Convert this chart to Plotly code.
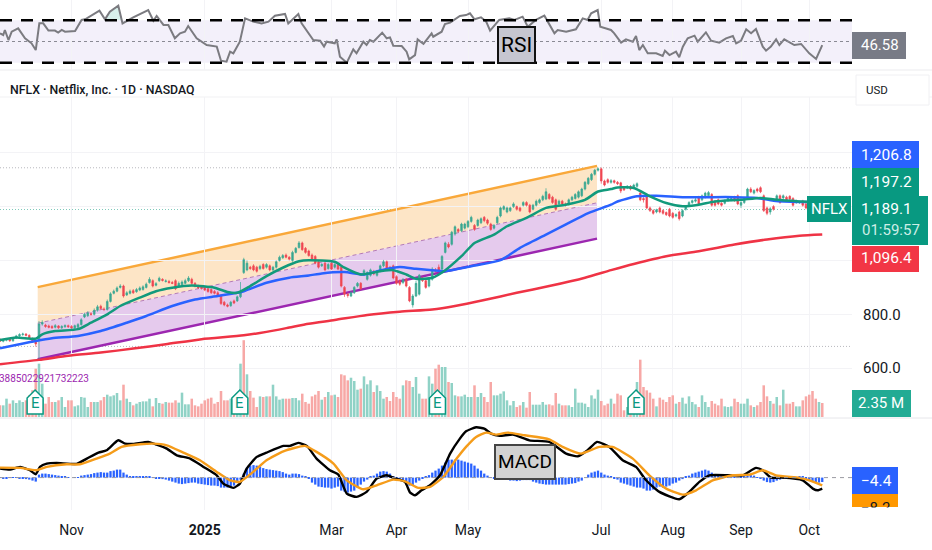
import plotly.graph_objects as go

# bars are spaced 3.25px, so the plot area of 852px holds this many of them
BAR_COUNT_VISIBLE = 852 / 3.25
FONT = "Roboto, sans-serif"

tick_idx = [22, 63, 102, 122, 144, 185, 207, 228, 249]
tick_labels = ["Nov", "<b>2025</b>", "Mar", "Apr", "May", "Jul", "Aug", "Sep", "Oct"]

opens = [
    706,700,704,708,702,712,720,725,727,722,
    710,700,705,764,760,757,755,752,757,750,
    754,758,755,750,752,762,790,795,802,800,
    815,830,820,818,848,878,886,900,905,872,
    878,888,884,890,892,900,918,925,908,925,
    930,922,922,918,925,905,910,915,925,930,
    915,905,902,900,895,892,885,880,870,845,
    835,832,850,850,865,955,965,975,980,975,
    970,985,975,980,965,975,1000,1010,1020,1012,
    1000,1030,1048,1065,1045,1035,1020,1015,995,980,
    990,970,990,975,985,975,900,875,868,880,
    905,915,948,930,945,960,945,965,980,995,
    975,980,940,925,918,930,900,835,868,875,
    935,925,905,930,965,975,968,1030,1060,1060,
    1098,1115,1110,1120,1125,1145,1130,1130,1140,1160,
    1150,1135,1120,1140,1165,1190,1180,1185,1200,1200,
    1195,1205,1215,1205,1190,1205,1215,1225,1228,1245,
    1235,1225,1210,1220,1210,1208,1225,1230,1235,1240,
    1265,1285,1300,1320,1335,1340,1295,1300,1290,1296,
    1290,1288,1272,1270,1275,1270,1275,1250,1230,1240,
    1195,1185,1180,1195,1185,1178,1190,1175,1165,1180,
    1165,1190,1205,1215,1220,1235,1225,1235,1240,1245,
    1220,1225,1212,1212,1222,1225,1235,1240,1205,1215,
    1235,1265,1250,1265,1270,1240,1195,1180,1200,1225,
    1240,1232,1235,1238,1230,1215,1215,1220,1210,1200,
    1195,1190,1188,1190,
]
closes = [
    700,704,708,702,712,720,725,727,722,710,
    700,690,764,770,755,752,750,758,750,755,
    758,754,750,758,762,780,800,805,800,815,
    828,822,818,848,876,886,898,905,868,880,
    886,880,892,898,902,912,930,905,914,934,
    926,924,918,915,895,915,920,925,935,915,
    905,898,896,890,885,880,878,870,840,835,
    830,845,842,865,880,1003,990,970,965,960,
    978,970,985,965,975,995,1012,1018,1012,1005,
    1030,1045,1065,1040,1030,1018,1002,990,975,985,
    965,985,968,985,968,905,875,870,880,900,
    915,895,962,955,965,950,960,980,995,970,
    968,935,915,912,928,905,850,868,915,945,
    925,900,930,968,960,965,1015,1065,1050,1105,
    1125,1108,1135,1135,1145,1160,1115,1150,1155,1148,
    1138,1115,1130,1160,1195,1200,1195,1195,1210,1190,
    1185,1215,1205,1180,1205,1220,1225,1238,1255,1230,
    1215,1190,1220,1210,1205,1225,1235,1245,1255,1265,
    1290,1305,1320,1335,1340,1295,1280,1290,1296,1290,
    1285,1258,1262,1275,1265,1280,1285,1225,1225,1195,
    1185,1175,1188,1180,1175,1170,1165,1160,1170,1155,
    1185,1200,1215,1222,1225,1210,1240,1250,1252,1205,
    1205,1210,1205,1222,1232,1230,1222,1210,1215,1230,
    1265,1255,1260,1258,1255,1185,1175,1192,1190,1240,
    1215,1240,1225,1228,1205,1222,1218,1205,1195,1195,
    1190,1188,1190,1189,
]
highs = [
    712,708,712,712,716,724,730,732,730,726,
    714,706,775,778,765,762,760,764,760,760,
    763,762,760,762,768,786,806,812,808,822,
    835,836,826,855,882,892,904,912,910,886,
    892,894,898,904,908,918,938,930,920,940,
    934,930,928,924,930,922,926,932,942,936,
    920,910,908,906,900,896,890,886,874,850,
    840,850,855,870,920,1010,1000,980,986,980,
    984,990,990,985,980,1000,1018,1024,1026,1016,
    1036,1050,1072,1070,1050,1040,1026,1020,1000,990,
    996,990,996,990,990,980,905,880,885,905,
    920,920,968,960,970,965,965,985,1002,1000,
    980,985,945,930,935,935,905,875,925,950,
    940,930,936,975,972,985,1020,1070,1068,1110,
    1130,1120,1140,1140,1150,1166,1135,1155,1160,1165,
    1155,1140,1135,1166,1200,1205,1200,1200,1216,1204,
    1200,1220,1220,1210,1210,1226,1230,1244,1268,1250,
    1240,1230,1226,1225,1215,1230,1240,1250,1260,1270,
    1295,1310,1325,1340,1345,1345,1300,1305,1302,1300,
    1295,1292,1276,1280,1280,1285,1290,1255,1235,1245,
    1200,1190,1192,1200,1190,1182,1195,1180,1175,1185,
    1190,1205,1220,1226,1232,1240,1245,1255,1258,1250,
    1225,1230,1216,1226,1236,1235,1240,1245,1220,1235,
    1270,1272,1264,1270,1275,1245,1200,1198,1205,1245,
    1245,1245,1240,1242,1235,1226,1222,1225,1215,1205,
    1200,1195,1194,1194,
]
lows = [
    698,696,700,698,698,708,716,720,718,706,
    696,680,630,758,750,748,746,748,746,746,
    750,750,746,746,748,758,786,790,795,796,
    810,818,812,814,844,874,882,896,862,868,
    874,876,880,886,888,896,914,900,904,920,
    922,918,914,912,890,900,906,912,920,910,
    900,894,892,886,880,876,874,866,835,830,
    826,828,838,846,860,950,960,965,960,955,
    964,966,970,960,960,970,996,1006,1008,1000,
    995,1026,1044,1036,1025,1014,998,986,970,976,
    960,966,964,970,964,900,865,862,864,876,
    900,890,942,925,940,945,940,960,975,965,
    962,930,910,906,912,900,845,825,864,870,
    920,895,900,925,955,960,964,1026,1045,1055,
    1092,1104,1105,1115,1120,1140,1110,1125,1135,1142,
    1132,1110,1115,1135,1160,1186,1175,1180,1195,1185,
    1180,1200,1200,1175,1186,1200,1210,1220,1224,1225,
    1210,1185,1205,1205,1200,1204,1220,1226,1230,1235,
    1260,1280,1295,1315,1330,1285,1275,1285,1285,1285,
    1280,1250,1258,1265,1260,1265,1270,1220,1215,1190,
    1180,1170,1175,1175,1170,1165,1160,1155,1160,1148,
    1160,1185,1200,1210,1215,1205,1220,1230,1235,1200,
    1200,1205,1200,1208,1218,1220,1218,1205,1195,1210,
    1230,1250,1245,1252,1250,1180,1168,1170,1185,1220,
    1210,1228,1220,1222,1200,1210,1210,1200,1190,1190,
    1185,1182,1185,1186,
]
# volume in millions
volumes = [
    1.96,1.96,3.08,2.24,2.8,2.35,2.8,2.52,2.8,3.64,
    4.5,8.12,8.96,5.6,2.24,3.36,2.52,2.52,2.8,3.36,
    1.68,2.8,2.8,1.79,1.96,3.36,3.25,1.68,2.52,2.52,
    2.52,2.8,3.36,3.75,3.47,3.64,4.03,2.8,5.43,3.08,
    2.52,1.96,2.24,2.52,2.63,2.63,3.08,1.79,3.19,2.35,
    2.24,2.52,2.41,2.41,2.8,2.41,4.09,2.13,2.13,3.08,
    1.96,1.79,2.24,2.8,3.08,3.25,2.24,2.52,4.37,2.8,
    2.8,3.08,3.08,3.9,8.96,12.9,7.17,4.37,3.25,1.68,
    3.47,3.36,3.47,3.47,5.43,3.47,2.91,3.08,3.08,3.08,
    3.19,3.19,2.8,3.92,2.52,2.24,3.47,3.75,4.37,2.91,
    3.36,4.2,3.64,3.75,3.36,7.17,7.0,6.16,6.6,6.05,
    4.59,4.76,6.83,5.49,6.16,4.2,5.32,4.37,3.08,3.36,
    2.69,4.2,3.36,3.08,5.32,6.16,6.05,5.04,6.72,3.92,
    3.08,3.08,6.83,5.6,8.12,8.79,8.4,8.4,5.88,5.71,
    3.64,3.47,3.47,3.75,3.36,3.36,5.32,3.36,4.03,3.36,
    2.52,5.88,3.64,3.64,3.92,4.31,2.8,1.96,2.69,1.68,
    1.96,2.52,1.57,4.2,2.07,2.07,2.07,2.52,2.07,2.13,
    1.96,4.03,2.24,1.96,1.96,1.96,1.68,4.76,2.41,2.41,
    2.24,1.68,3.64,3.08,4.59,2.69,1.96,2.24,3.08,2.24,
    3.92,3.64,1.12,1.68,2.52,2.52,5.88,9.63,5.04,4.48,
    4.09,3.08,1.79,3.25,2.91,2.52,3.36,3.64,2.24,2.52,
    3.25,2.24,3.47,2.52,2.13,1.68,3.64,2.52,1.68,2.69,
    2.24,1.96,3.08,1.79,1.68,1.79,3.08,2.52,2.24,2.24,
    3.08,1.96,1.68,1.96,2.52,5.32,3.47,2.69,2.24,3.36,
    1.96,4.59,2.24,2.24,2.52,1.79,1.79,2.8,3.47,3.75,
    4.37,3.08,2.52,2.35,
]
macd_hist = [
    -0.3,-0.5,-0.5,-0.3,-0.2,-0.3,-0.5,-1,-1.5,-2,
    -3,-4,3,4,4,3.5,3,2.5,2,1.5,
    1,0.5,0,0.3,0.5,2,2.5,3,3.5,4.5,
    5,5.5,5,5,6.5,7,8,8,5,3,
    1.5,1,1,1,1,1.5,1,0.5,-0.5,-1,
    -1.5,-2,-3,-4,-5,-6,-6.5,-6,-5.5,-5,
    -5,-6,-6.5,-7,-7.5,-8,-8,-8.5,-10,-10,
    -10,-9,-8,-5,-2,4,10,12,12.5,12,
    11,9.5,8.5,8,7.5,7,6.5,5.5,4,3,
    4,4,3.5,2,1,-1,-5,-7,-9,-9.5,
    -10,-10,-11,-10,-9,-13,-14,-15,-14,-13,
    -10,-7,-4,-2,1,2,4,6,6.5,6,
    4,1,-1,-2,-3,-5,-8,-8,-5,-3,
    -1,1,2.5,5,7,9,12,15,18,18,
    18,18,17,16,15,14,12,9,7,4,
    2,0.5,-0.5,-1,-1,-1.5,-2,-3,-3,-3.5,
    -3,-2.5,-2.5,-2.5,-4,-5,-6,-6.5,-7,-7,
    -7,-7,-7,-7,-7,-6.5,-6,-5.5,-4,-3,
    0,3,5,6,7,5,3,2,1,-1,
    -2,-5,-6,-7,-8,-9,-10,-10,-11,-13,
    -13,-12,-10,-9,-10,-9,-8,-6,-5,-3,
    -1.5,1,2,4,5,6,7,8,7,5,
    3,2,1.5,1,0.5,0.5,0.5,0.5,1,1.5,
    2,2.5,2,0.5,-0.5,-3,-4.5,-5,-4.5,-3,
    -2,-1,0.3,0.5,0.5,0.5,0.8,1,-1,-3,
    -4,-5,-5,-4.4,
]
red_volume_bars = [75]

ema20_idx = [0,5,9,11,13,17,24,28,33,37,43,48,53,59,66,70,73,77,82,87,92,95,103,106,111,117,121,125,128,133,137,142,146,152,156,162,168,174,180,184,188,190,195,200,205,210,215,220,228,234,239,246,249,253]
ema20 = [705,714,710,710,726,738,745,769,800,831,862,886,899,907,899,883,880,905,942,973,997,1001,995,973,948,960,964,948,932,936,964,1016,1065,1096,1127,1158,1195,1207,1225,1256,1265,1271,1269,1238,1213,1201,1207,1219,1225,1232,1225,1219,1217,1197.2]
ema50_idx = [0,6,11,16,24,31,39,45,53,60,67,72,75,82,89,95,99,106,112,118,123,128,133,137,146,154,160,168,174,181,188,190,196,202,210,217,226,233,238,246,249,253]
ema50 = [674,689,701,711,720,738,769,794,831,855,868,878,886,917,936,944,952,957,948,966,976,969,964,960,981,1001,1047,1096,1133,1176,1207,1219,1238,1240,1235,1235,1235,1232,1222,1217,1217,1206.8]
ema200_idx = [0,12,21,31,41,51,62,75,82,89,95,103,113,123,133,140,149,159,169,180,188,195,205,215,226,236,246,253]
ema200 = [615,631,646,658,673,689,708,722,735,751,765,779,798,810,818,831,853,880,905,936,964,987,1016,1034,1059,1078,1092,1096.4]

# the parallel channel drawing
channel_idx = [11.6, 183.7]
channel_top = [901, 1351]
channel_mid = [767, 1214]
channel_bottom = [633, 1081]

level_high = 1344
level_last = 1189.1
level_low = 681

earnings_idx = [10.8, 73.8, 134.6, 195.7]

rsi_idx = [0,1,1.5,2.6,3.6,5.6,7.7,9.7,11,12.1,13.3,14.9,16.9,17.9,19,20,23.1,25.1,26.2,28.2,30.6,32.3,33.8,36.4,37.7,41,45.6,47.2,48.2,50.3,51.8,53.8,55.4,56.9,57.9,60.5,63.6,66.7,68,69.7,70.8,71.8,73.8,75.4,77.9,80.5,82.6,84.6,87.7,88.7,91.8,92.8,96.4,98.5,99.7,100.5,103,103.6,104.6,106.7,108.7,109.7,111.8,112.8,113.8,114.9,117.6,119,120,121,123.6,125.1,125.9,127.7,128.5,130.3,132.8,133.3,135.9,136.9,138.5,141.5,143.4,144.6,146,148,149.6,150.8,153.6,156.7,158.3,160.8,162.4,164.9,167.5,170.6,171.6,174.2,177.2,179.3,180.8,181.9,183.9,184.7,186.5,188,189,191.1,192.6,194.7,195.7,196.7,197.8,199.3,201.9,203.9,204.6,206,208,209,210.1,211.6,213.7,214.7,217.2,218.8,221.3,223.4,225.5,226.5,228,229.6,231.1,232.6,234.7,235.7,237.2,238.8,239.8,241.3,244.4,246.5,249,251.1,253]
rsi = [57.7,56.1,60.8,51.4,59.2,62.3,53,48.3,42,67,67,60.2,60.2,58.3,60.8,59.2,59.8,70.2,70.8,74.8,78.9,70.8,78,83.6,67,72.7,79.5,69.5,73.9,65.5,65.5,53,57.7,59.2,64.5,53,46.7,45.2,32,31.1,40.5,38.9,49.8,71.7,68.6,67,68.6,74.2,75.8,67,75.8,67,51.4,50.8,45.2,49.8,48.3,52,35.8,30.2,42.7,38.9,49.8,46.7,51.4,49.8,58.3,53,53.9,46.1,45.8,40.5,33.3,37.3,52,47.7,57.7,54.5,59.2,66.4,67.7,73.9,74.8,76.4,70.8,72.7,68.6,60.2,70.2,71.7,70.2,73.3,63.9,70.2,74.2,57.7,60.8,59.2,61.4,71.7,70.2,76.4,79.5,63.9,62.3,60.8,57.7,48.9,52,49.8,55.2,42,46.7,38.9,38.9,36.4,41.4,37.3,40.5,35.2,45.2,53,55.5,49.8,58.6,50.8,48.9,53,55.2,48.3,50.8,61.4,57.7,61.7,45.2,41.4,45.2,52,46.7,52,46.7,47.7,38.9,33.6,46.58]
rsi_peak_idx = [32.3, 33.8, 36.4, 37.4]
rsi_peak = [70.8, 78, 83.6, 70]

macd_idx = [0,3.1,6.2,9.2,11,12.3,14.4,17.4,23.6,26.7,30.3,32.8,36.4,38.5,41,45.6,48.2,51.3,54.4,58.5,62.6,66.7,68.7,71.8,73.8,75.9,79,82,87.2,89.2,91.8,94.4,97.4,101.5,104.1,106.7,109.7,112.8,115.9,119,121,124.6,126.2,127.7,129.7,132.3,135.4,138.5,141.5,143.4,146.5,149,151.1,153.7,157.8,162.9,169,174.2,177.8,180.8,183.7,187.5,191.6,195.7,198.8,202.9,209,212.1,215.2,218.3,224.4,228.5,232.6,234.7,237.2,240.8,247,250.1,251.6,253]
macd = [9,8,10.7,7.3,3.3,10.7,14,14.7,13.7,19,25,27.3,37.3,34,33.7,35.7,33,29,22.3,19,10.7,2.3,-6,-10.3,-6,9,20.7,25,31.7,31.7,34.7,31.7,19,7.3,3,-16,-19.3,-14.3,-1,2.3,0,-4.3,-15,-17.7,-12.7,-7.7,2.3,24,39,46.3,50.3,49,44,41.7,43,37.3,35.7,24,21.3,27.3,35.7,30.7,17.3,10.7,-2.7,-14.3,-21.7,-14.3,-4.3,2.3,2.3,2.3,9.7,7.3,0,0,-2.7,-11,-12.7,-11]
signal_idx = [0,6.2,11,14.4,20.5,24.6,29.7,33.8,37.4,43.1,47.2,51.3,56.4,61.5,66.7,70.8,73.8,77.9,82,87.2,93.8,97.4,102.6,106.7,111.8,115.9,121,124.6,128.7,132.3,136.4,140.5,143.4,146.5,149.6,152.6,156.2,161.4,169,173.1,178.8,184.4,188.5,194.7,199.8,205,210.1,214.2,219.3,225.5,230.6,234.7,238.8,246,249,253]
signal = [10,9.7,7.3,10.7,13.3,13.3,19,24,30.7,33.3,34,32.3,25,17.3,5.7,-2.7,-4.3,5.7,17.3,26.3,31.7,25.7,14,-2.7,-11.7,-7.7,-2,-3.7,-10.3,-9.3,0.7,19,30.7,40.7,45,43,45,42.3,38.3,30.7,24,30.7,30.7,19,2.3,-11,-17,-12.7,-2.7,2.3,3,7.3,2.3,-0.3,-2.7,-7.7]


def px_x(px):
    return px / 932


def px_y(py):
    return 1 - py / 550


bars = list(range(len(closes)))
fig = go.Figure()

# RSI pane
fig.add_trace(go.Scatter(x=rsi_peak_idx, y=rsi_peak, mode="lines", fill="toself",
                         fillcolor="rgba(8,153,129,0.16)", line=dict(width=0), yaxis="y"))
fig.add_trace(go.Scatter(x=rsi_idx, y=rsi, mode="lines", line=dict(color="#7b7b80", width=2), yaxis="y"))

# volume sits under the price axis
vol_colors = []
for i in bars:
    if closes[i] < opens[i] or i in red_volume_bars:
        vol_colors.append("#f7a8a6")
    else:
        vol_colors.append("#90d2c6")
fig.add_trace(go.Bar(x=bars, y=volumes, width=0.78, marker=dict(color=vol_colors, line=dict(width=0)), yaxis="y2"))

fig.add_trace(go.Candlestick(x=bars, open=opens, high=highs, low=lows, close=closes, yaxis="y3", whiskerwidth=0,
                             increasing=dict(line=dict(color="#3aa892", width=0.7), fillcolor="#3aa892"),
                             decreasing=dict(line=dict(color="#ef4652", width=0.7), fillcolor="#ef4652")))

# moving averages
fig.add_trace(go.Scatter(x=ema200_idx, y=ema200, mode="lines", line=dict(color="#ef3345", width=2.5, shape="spline", smoothing=0.6), yaxis="y3"))
fig.add_trace(go.Scatter(x=ema50_idx, y=ema50, mode="lines", line=dict(color="#2962ff", width=2.5, shape="spline", smoothing=0.6), yaxis="y3"))
fig.add_trace(go.Scatter(x=ema20_idx, y=ema20, mode="lines", line=dict(color="#129a7c", width=2.5, shape="spline", smoothing=0.6), yaxis="y3"))

# MACD pane
fig.add_trace(go.Bar(x=bars, y=macd_hist, width=0.7, marker=dict(color="#2962ff", line=dict(width=0)), yaxis="y4"))
fig.add_trace(go.Scatter(x=macd_idx, y=macd, mode="lines", line=dict(color="#000000", width=2.4, shape="spline", smoothing=0.5), yaxis="y4"))
fig.add_trace(go.Scatter(x=signal_idx, y=signal, mode="lines", line=dict(color="#f59c1a", width=2.4, shape="spline", smoothing=0.5), yaxis="y4"))

shapes = [
    # rsi band and its levels
    dict(type="rect", xref="x", yref="y", x0=0, x1=BAR_COUNT_VISIBLE, y0=30, y1=70, fillcolor="#f3f0fa", line=dict(width=0), layer="below"),
    dict(type="line", xref="x", yref="y", x0=0, x1=BAR_COUNT_VISIBLE, y0=70, y1=70, line=dict(color="#000000", width=2.5, dash="12px,9px")),
    dict(type="line", xref="x", yref="y", x0=0, x1=BAR_COUNT_VISIBLE, y0=30, y1=30, line=dict(color="#000000", width=2.5, dash="12px,9px")),
    dict(type="line", xref="x", yref="y", x0=0, x1=BAR_COUNT_VISIBLE, y0=50, y1=50, line=dict(color="#8a8a94", width=1, dash="3px,3px")),
    dict(type="line", xref="x", yref="y4", x0=0, x1=BAR_COUNT_VISIBLE, y0=0, y1=0, line=dict(color="#9a9aa2", width=1, dash="4px,4px")),
    # pane separators
    dict(type="line", xref="paper", yref="paper", x0=0, x1=1, y0=px_y(70), y1=px_y(70), line=dict(color="#ebebee", width=1), layer="below"),
    dict(type="line", xref="paper", yref="paper", x0=0, x1=1, y0=px_y(97), y1=px_y(97), line=dict(color="#f1f1f3", width=1), layer="below"),
    dict(type="line", xref="paper", yref="paper", x0=0, x1=1, y0=px_y(418), y1=px_y(418), line=dict(color="#e6e6ea", width=1), layer="below"),
]

# horizontal price levels and the channel go under the candles
for level, col in [(level_high, "#b8b8be"), (level_last, "#7fcabb"), (level_low, "#b8b8be")]:
    shapes.append(dict(type="line", xref="x", yref="y3", x0=0, x1=BAR_COUNT_VISIBLE, y0=level, y1=level,
                       line=dict(color=col, width=1, dash="1px,2px"), layer="below"))

x0, x1 = channel_idx
shapes.append(dict(type="path", xref="x", yref="y3", layer="below", fillcolor="#fde5c6", line=dict(width=0),
                   path=f"M{x0},{channel_top[0]} L{x1},{channel_top[1]} L{x1},{channel_mid[1]} L{x0},{channel_mid[0]} Z"))
shapes.append(dict(type="path", xref="x", yref="y3", layer="below", fillcolor="#e5caed", line=dict(width=0),
                   path=f"M{x0},{channel_mid[0]} L{x1},{channel_mid[1]} L{x1},{channel_bottom[1]} L{x0},{channel_bottom[0]} Z"))
shapes.append(dict(type="line", xref="x", yref="y3", layer="below", x0=x0, x1=x1, y0=channel_mid[0], y1=channel_mid[1],
                   line=dict(color="#b57bb5", width=1, dash="4px,3px")))
shapes.append(dict(type="line", xref="x", yref="y3", layer="below", x0=x0, x1=x1, y0=channel_top[0], y1=channel_top[1],
                   line=dict(color="#f9a83a", width=2.5)))
shapes.append(dict(type="line", xref="x", yref="y3", layer="below", x0=x0, x1=x1, y0=channel_bottom[0], y1=channel_bottom[1],
                   line=dict(color="#9c27b0", width=2.5)))


def box(x0, y0, x1, y1, fill, border=None, width=0):
    shapes.append(dict(type="rect", xref="paper", yref="paper", x0=px_x(x0), x1=px_x(x1), y0=px_y(y0), y1=px_y(y1),
                       fillcolor=fill, line=dict(color=border, width=width), layer="above"))


annotations = []


def label(text, cx, cy, size=15.5, color="#ffffff", anchor="center", weight=400):
    annotations.append(dict(text=text, xref="paper", yref="paper", x=px_x(cx), y=px_y(cy), xanchor=anchor, yanchor="middle",
                            showarrow=False, font=dict(family=FONT, size=size, color=color, weight=weight)))


box(852, 141, 919, 168, "#2962ff")
box(852, 168, 919, 196, "#089981")
box(852, 196, 928, 245, "#089981")
box(852, 246, 919, 272, "#f23645")
box(807, 196, 851, 222, "#089981")
box(852, 390, 911, 417, "#22ab94")
box(852, 32, 906, 59, "#787b86")
box(852, 467, 898, 494, "#2962ff")
box(852, 494, 898, 507, "#ff9800")
box(498, 27, 535, 63, "#c6c6d0", "#111111", 2)
box(495, 445, 555, 479, "#d2d2d2", "#444444", 2)
box(856, 75, 929, 105, "#ffffff", "#f0f0f3", 1)

label("1,206.8", 886, 155)
label("1,197.2", 886, 182)
label("1,189.1", 886, 209)
label("01:59:57", 891, 230, size=15, color="#cdeee7")
label("1,096.4", 886, 258)
label("NFLX", 829, 209, size=15)
label("2.35 M", 881, 403, size=15)
label("46.58", 880, 45, size=15)
label("−4.4", 876, 481)
label("RSI", 516, 45, size=21, color="#000000")
label("MACD", 525, 461, size=19, color="#000000")
label("USD", 864, 90, size=11.5, color="#131722", anchor="left")
label("NFLX · Netflix, Inc. · 1D · NASDAQ", 8, 90, size=12.3, color="#131722", anchor="left", weight=500)
label("3885022921732223", 91, 378, size=10, color="#9c27b0", anchor="right")
label("−8.2", 875, 508, size=15, color="#131722")
# white strip that cuts the orange label off at the bottom of the pane
annotations.append(dict(text=" ", xref="paper", yref="paper", x=px_x(875), y=px_y(507), xanchor="center", yanchor="top",
                        showarrow=False, width=50, height=14, bgcolor="#ffffff", borderpad=0))

# earnings markers stand on the bottom of the price pane
for e in earnings_idx:
    shapes.append(dict(type="path", xref="x", yref="paper", xsizemode="pixel", ysizemode="pixel", xanchor=e, yanchor=px_y(414),
                       path="M-8,0 L8,0 L8,16 L0,24 L-8,16 Z", fillcolor="#ffffff", line=dict(color="#089981", width=1.5), layer="above"))
    annotations.append(dict(text="E", xref="x", yref="paper", x=e, y=px_y(403), xanchor="center", yanchor="middle", showarrow=False,
                            font=dict(family=FONT, size=15, color="#089981")))

hidden = dict(showticklabels=False, showgrid=False, zeroline=False, ticks="", fixedrange=True)

fig.update_layout(
    width=932, height=550,
    margin=dict(l=0, r=0, t=0, b=0),
    paper_bgcolor="#ffffff", plot_bgcolor="#ffffff",
    showlegend=False, barmode="overlay",
    font=dict(family=FONT, color="#131722"),
    shapes=shapes, annotations=annotations,
    xaxis=dict(domain=[0, 852 / 932], range=[0, BAR_COUNT_VISIBLE], anchor="y4", rangeslider=dict(visible=False),
               tickmode="array", tickvals=tick_idx, ticktext=tick_labels, ticks="", ticklabelstandoff=10,
               tickfont=dict(size=14, color="#131722", family=FONT), showgrid=True, gridcolor="#f3f3f6", zeroline=False),
    yaxis=dict(domain=[px_y(70), px_y(0)], range=[23.3, 88.9], **hidden),
    yaxis2=dict(domain=[px_y(417), px_y(97)], range=[0, 53.76], **hidden),
    yaxis3=dict(domain=[px_y(418), px_y(97)], range=[419, 1606.7], overlaying="y2", side="right", tickmode="array",
                tickvals=[600, 800, 1000, 1200, 1400], ticktext=["600.0", "800.0", "", "", ""], ticks="", ticklabelstandoff=10,
                tickfont=dict(size=15, color="#131722", family=FONT), showgrid=True, gridcolor="#f3f3f6", zeroline=False),
    yaxis4=dict(domain=[px_y(510), px_y(418)], range=[-32.4, 59.6], **hidden),
)

fig.write_html("out.html", config={"displayModeBar": False}, post_script="document.body.style.margin='0';")
